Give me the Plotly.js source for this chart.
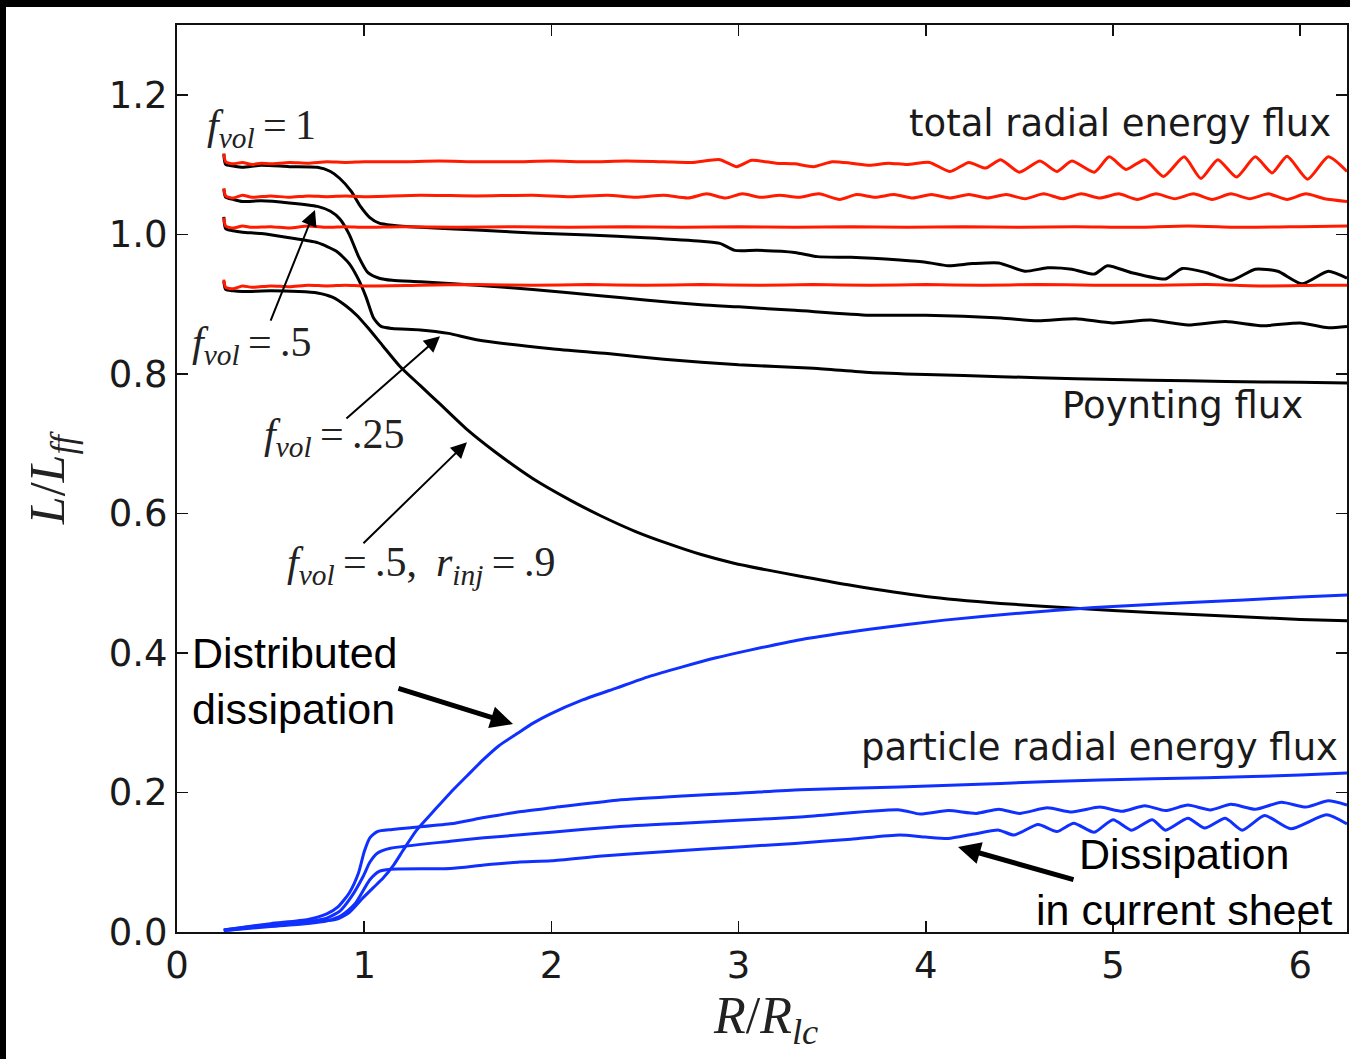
<!DOCTYPE html>
<html><head><meta charset="utf-8">
<script src="https://cdn.plot.ly/plotly-3.0.1.min.js"></script>
<style>
html,body{margin:0;padding:0;background:#000;width:1350px;height:1059px;overflow:hidden}
#chart{position:absolute;left:6px;top:7px;width:1344px;height:1052px;background:#fff}
</style>
</head><body><div id="chart"></div>
<script>
// total radial energy flux (red)
const xR1 = [0.25,0.26,0.3,0.35,0.4,0.45,0.5,0.6,0.7,0.8,0.9,1.0,1.2,1.4,1.6,1.8,2.0,2.2,2.4,2.6,2.75,2.9,2.99,3.07,3.2,3.3,3.4,3.5,3.6,3.7,3.8,3.9,4.02,4.13,4.23,4.32,4.40,4.50,4.61,4.70,4.78,4.90,4.98,5.07,5.17,5.27,5.38,5.47,5.56,5.66,5.76,5.85,5.93,6.04,6.15,6.25];
const yR1 = [1.116,1.104,1.101,1.103,1.100,1.102,1.101,1.103,1.102,1.104,1.103,1.104,1.104,1.105,1.104,1.104,1.105,1.104,1.105,1.104,1.103,1.107,1.097,1.106,1.102,1.101,1.097,1.104,1.102,1.099,1.102,1.100,1.103,1.090,1.103,1.095,1.107,1.089,1.105,1.090,1.105,1.089,1.111,1.093,1.107,1.083,1.111,1.080,1.107,1.082,1.111,1.088,1.112,1.079,1.111,1.090];
const xR2 = [0.25,0.26,0.3,0.35,0.4,0.5,0.6,0.7,0.8,0.9,1.0,1.3,1.6,1.9,2.1,2.3,2.45,2.6,2.73,2.83,2.93,3.02,3.12,3.22,3.32,3.43,3.54,3.63,3.73,3.83,3.93,4.03,4.13,4.23,4.33,4.43,4.53,4.63,4.73,4.83,4.93,5.03,5.13,5.23,5.33,5.43,5.53,5.63,5.73,5.83,5.93,6.03,6.13,6.25];
const yR2 = [1.066,1.055,1.052,1.056,1.053,1.055,1.053,1.055,1.054,1.055,1.054,1.056,1.055,1.056,1.054,1.056,1.053,1.056,1.052,1.058,1.052,1.058,1.053,1.056,1.053,1.058,1.050,1.057,1.053,1.057,1.052,1.057,1.052,1.057,1.052,1.057,1.051,1.058,1.051,1.058,1.052,1.058,1.050,1.058,1.051,1.058,1.050,1.058,1.051,1.058,1.050,1.058,1.051,1.047];
const xR3 = [0.25,0.26,0.3,0.35,0.4,0.5,0.6,0.7,0.8,0.9,1.0,1.2,1.5,1.8,2.1,2.4,2.7,3.0,3.3,3.6,3.9,4.2,4.5,4.8,5.1,5.4,5.7,6.0,6.25];
const yR3 = [1.024,1.012,1.009,1.012,1.010,1.011,1.009,1.012,1.010,1.011,1.010,1.011,1.010,1.011,1.010,1.011,1.010,1.011,1.010,1.011,1.010,1.011,1.010,1.011,1.010,1.012,1.010,1.011,1.012];
const xR4 = [0.25,0.26,0.3,0.35,0.4,0.5,0.6,0.7,0.8,0.9,1.0,1.3,1.6,1.9,2.2,2.5,2.8,3.1,3.4,3.7,4.0,4.3,4.6,4.9,5.2,5.5,5.8,6.1,6.25];
const yR4 = [0.935,0.924,0.922,0.926,0.924,0.926,0.925,0.927,0.926,0.927,0.926,0.927,0.928,0.927,0.928,0.927,0.928,0.927,0.928,0.927,0.928,0.927,0.928,0.927,0.927,0.928,0.926,0.927,0.927];

// Poynting flux (black)
const xB1 = [0.25,0.26,0.3,0.35,0.45,0.6,0.75,0.82,0.87,0.93,0.98,1.03,1.08,1.15,1.3,1.6,1.9,2.2,2.5,2.8,2.9,2.98,3.1,3.3,3.42,3.6,3.86,4.0,4.12,4.25,4.39,4.53,4.65,4.78,4.90,4.97,5.10,5.28,5.37,5.5,5.63,5.76,5.88,6.01,6.15,6.25];
const yB1 = [1.115,1.100,1.098,1.096,1.099,1.097,1.096,1.090,1.080,1.062,1.040,1.024,1.016,1.013,1.010,1.006,1.002,0.999,0.995,0.990,0.987,0.977,0.977,0.974,0.968,0.967,0.963,0.960,0.955,0.958,0.959,0.947,0.952,0.950,0.943,0.955,0.945,0.936,0.951,0.945,0.934,0.950,0.947,0.929,0.947,0.937];
const xB2 = [0.25,0.26,0.3,0.35,0.45,0.6,0.75,0.82,0.87,0.92,0.97,1.02,1.08,1.15,1.3,1.6,1.9,2.26,2.5,2.8,3.0,3.3,3.7,4.0,4.4,4.6,4.8,5.0,5.2,5.4,5.6,5.8,6.0,6.15,6.25];
const yB2 = [1.065,1.053,1.050,1.047,1.048,1.045,1.040,1.033,1.022,1.000,0.968,0.945,0.937,0.934,0.932,0.927,0.921,0.912,0.906,0.899,0.896,0.891,0.884,0.884,0.880,0.876,0.879,0.873,0.877,0.870,0.875,0.869,0.873,0.866,0.868];
const xB3 = [0.25,0.26,0.3,0.35,0.45,0.6,0.75,0.85,0.92,0.97,1.01,1.05,1.09,1.15,1.3,1.45,1.6,2.0,2.3,2.6,3.0,3.4,3.7,4.0,4.4,4.8,5.2,5.6,6.0,6.25];
const yB3 = [1.025,1.008,1.005,1.003,1.001,0.995,0.988,0.976,0.958,0.935,0.910,0.880,0.868,0.865,0.863,0.858,0.849,0.836,0.829,0.821,0.813,0.808,0.802,0.799,0.796,0.793,0.791,0.789,0.788,0.787];
const xB4 = [0.25,0.26,0.3,0.35,0.5,0.65,0.75,0.83,0.9,0.96,1.02,1.1,1.19,1.3,1.4,1.55,1.7,1.9,2.1,2.26,2.45,2.62,2.8,2.97,3.15,3.33,3.6,4.0,4.4,4.8,5.2,5.6,6.0,6.25];
const yB4 = [0.933,0.921,0.919,0.918,0.919,0.918,0.916,0.910,0.898,0.884,0.866,0.840,0.811,0.783,0.758,0.720,0.688,0.650,0.619,0.597,0.574,0.557,0.541,0.529,0.519,0.510,0.497,0.481,0.471,0.464,0.458,0.453,0.448,0.446];

// distributed dissipation and particle radial energy flux (blue)
const xDD = [0.25,0.4,0.57,0.75,0.85,0.92,0.99,1.05,1.10,1.16,1.21,1.28,1.37,1.458,1.55,1.636,1.72,1.815,1.9,1.99,2.17,2.35,2.52,2.70,2.88,3.06,3.33,3.7,4.1,4.5,4.9,5.3,5.7,6.0,6.25];
const yDD = [0.003,0.008,0.012,0.015,0.018,0.028,0.048,0.064,0.077,0.097,0.118,0.146,0.173,0.199,0.224,0.247,0.267,0.284,0.299,0.312,0.333,0.350,0.366,0.380,0.393,0.404,0.419,0.434,0.447,0.457,0.465,0.471,0.476,0.480,0.483];
const xP1 = [0.25,0.5,0.7,0.8,0.86,0.92,0.97,1.0,1.03,1.07,1.15,1.46,1.64,1.82,2.0,2.35,2.7,3.0,3.33,3.86,4.4,4.93,5.5,6.0,6.25];
const yP1 = [0.003,0.012,0.018,0.026,0.036,0.056,0.085,0.115,0.135,0.144,0.147,0.155,0.164,0.172,0.178,0.189,0.195,0.199,0.204,0.208,0.213,0.218,0.221,0.225,0.228];
const xP2 = [0.25,0.5,0.7,0.8,0.87,0.93,0.995,1.03,1.07,1.14,1.46,1.64,1.82,2.0,2.35,2.7,3.0,3.33,3.86,3.97,4.12,4.27,4.39,4.5,4.65,4.78,4.93,5.05,5.17,5.28,5.40,5.52,5.63,5.76,5.90,6.03,6.15,6.25];
const yP2 = [0.002,0.010,0.015,0.020,0.030,0.050,0.080,0.100,0.113,0.120,0.130,0.135,0.139,0.143,0.151,0.156,0.160,0.165,0.175,0.169,0.174,0.170,0.176,0.170,0.178,0.172,0.179,0.173,0.181,0.174,0.182,0.175,0.183,0.176,0.186,0.179,0.188,0.182];
const xP3 = [0.25,0.5,0.7,0.8,0.88,0.95,1.03,1.08,1.14,1.46,1.64,1.82,2.0,2.27,2.6,3.0,3.3,3.6,3.86,4.0,4.12,4.25,4.39,4.47,4.60,4.70,4.79,4.90,5.00,5.10,5.21,5.28,5.40,5.49,5.60,5.69,5.81,5.95,6.14,6.25];
const yP3 = [0.002,0.008,0.012,0.016,0.024,0.040,0.075,0.087,0.090,0.091,0.096,0.100,0.102,0.109,0.115,0.122,0.127,0.133,0.139,0.136,0.134,0.140,0.146,0.139,0.154,0.144,0.156,0.143,0.161,0.146,0.161,0.146,0.163,0.149,0.163,0.146,0.167,0.148,0.168,0.155];

const xTicks = [0,1,2,3,4,5,6];
const yTicks = [0,0.2,0.4,0.6,0.8,1.0,1.2];
const yTickText = ['0.0','0.2','0.4','0.6','0.8','1.0','1.2'];

const RED = '#ff1a00', BLACK = '#000000', BLUE = '#1030ff';
function tr(x, y, c, w) {
  return {x: x, y: y, type: 'scatter', mode: 'lines', hoverinfo: 'skip', showlegend: false,
          line: {color: c, width: w, shape: 'spline', smoothing: 0.6}};
}
const data = [
  tr(xB1, yB1, BLACK, 3), tr(xB2, yB2, BLACK, 3), tr(xB3, yB3, BLACK, 3), tr(xB4, yB4, BLACK, 3),
  tr(xR1, yR1, RED, 3), tr(xR2, yR2, RED, 3), tr(xR3, yR3, RED, 3), tr(xR4, yR4, RED, 3),
  tr(xDD, yDD, BLUE, 3), tr(xP1, yP1, BLUE, 3), tr(xP2, yP2, BLUE, 3), tr(xP3, yP3, BLUE, 3)
];

const SANS = 'DejaVu Sans', SERIF = 'Liberation Serif', HEL = 'Liberation Sans';
const fv = '<i>f</i><sub><i>vol</i></sub>';
const EQ = '&#8201;=&#8201;';
function txt(x, y, t, opts) {
  return Object.assign({x: x, y: y, xref: 'x', yref: 'y', text: t, showarrow: false,
    xanchor: 'left', yanchor: 'middle', font: {family: SANS, size: 37, color: '#1a1a1a'}}, opts || {});
}
function arr(ax, ay, x, y, w, s) {
  return {x: x, y: y, ax: ax, ay: ay, xref: 'x', yref: 'y', axref: 'x', ayref: 'y', text: '',
    showarrow: true, arrowhead: 2, arrowsize: s, arrowwidth: w, arrowcolor: '#000'};
}
const mathFont = {family: SERIF, size: 42, color: '#222'};
const annotations = [
  txt(0.15, 1.152, fv + EQ + '1', {font: mathFont}),
  txt(0.07, 0.841, fv + EQ + '.5', {font: mathFont}),
  txt(0.454, 0.709, fv + EQ + '.25', {font: mathFont}),
  txt(0.577, 0.526, fv + EQ + '.5, &#8201;<i>r</i><sub><i>inj</i></sub>' + EQ + '.9', {font: mathFont}),
  txt(6.175, 1.159, 'total radial energy flux', {xanchor: 'right'}),
  txt(6.026, 0.755, 'Poynting flux', {xanchor: 'right'}),
  txt(6.21, 0.264, 'particle radial energy flux', {xanchor: 'right'}),
  txt(0.07, 0.360, 'Distributed<br>dissipation', {align: 'left', font: {family: HEL, size: 43, color: '#000'}}),
  txt(5.38, 0.0717, 'Dissipation<br>in current sheet', {xanchor: 'center', align: 'center', font: {family: HEL, size: 43, color: '#000'}}),
  arr(0.497, 0.874, 0.737, 1.035, 2, 1.6),
  arr(0.897, 0.734, 1.405, 0.854, 2, 1.6),
  arr(0.988, 0.555, 1.549, 0.702, 2, 1.6),
  arr(1.175, 0.350, 1.795, 0.298, 5, 0.9),
  arr(4.797, 0.0745, 4.172, 0.122, 5, 0.9),
  {xref: 'paper', yref: 'paper', x: -0.108, y: 0.5, xanchor: 'center', yanchor: 'middle', textangle: -90,
   showarrow: false, text: '<i>L</i>/<i>L</i><sub><i>ff</i></sub>', font: {family: SERIF, size: 50, color: '#222'}},
  {xref: 'paper', yref: 'paper', x: 0.503, y: -0.096, xanchor: 'center', yanchor: 'middle',
   showarrow: false, text: '<i>R</i>/<i>R</i><sub><i>lc</i></sub>', font: {family: SERIF, size: 52, color: '#222'}}
];

const axisCommon = {showline: true, linecolor: '#111', linewidth: 2, mirror: 'allticks',
  ticks: 'inside', ticklen: 11, tickwidth: 1.5, tickcolor: '#111', showgrid: false, zeroline: false,
  tickfont: {family: SANS, size: 37, color: '#1a1a1a'}, fixedrange: true};

const layout = {
  width: 1344, height: 1052,
  margin: {l: 171, r: 3, t: 18, b: 127},
  paper_bgcolor: '#fff', plot_bgcolor: '#fff',
  showlegend: false,
  xaxis: Object.assign({}, axisCommon, {range: [0, 6.25], tickmode: 'array', tickvals: xTicks,
    ticktext: xTicks.map(String)}),
  yaxis: Object.assign({}, axisCommon, {range: [0, 1.3], tickmode: 'array', tickvals: yTicks,
    ticktext: yTickText}),
  annotations: annotations
};
Plotly.newPlot('chart', data, layout, {displayModeBar: false, staticPlot: true});
</script></body></html>
